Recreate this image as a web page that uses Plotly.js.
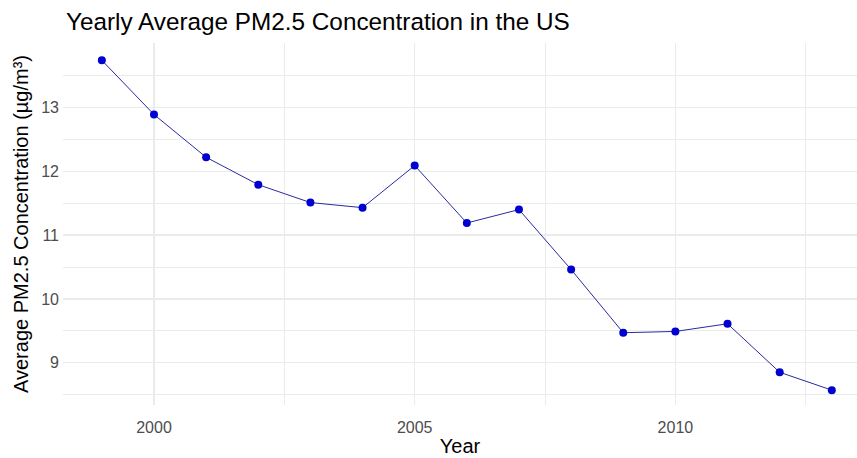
<!DOCTYPE html>
<html>
<head>
<meta charset="utf-8">
<script src="https://cdn.plot.ly/plotly-3.0.1.min.js"></script>
<style>html,body{margin:0;padding:0;background:#fff;}#chart{width:857px;height:458px;}</style>
</head>
<body>
<div id="chart"></div>
<script>
const years = [1999, 2000, 2001, 2002, 2003, 2004, 2005, 2006, 2007, 2008, 2009, 2010, 2011, 2012, 2013];
const pm25 = [13.74, 12.89, 12.22, 11.79, 11.51, 11.43, 12.09, 11.19, 11.40, 10.46, 9.47, 9.49, 9.61, 8.85, 8.57];
const xTickVals = [2000, 2005, 2010];
const yTickVals = [9, 10, 11, 12, 13];

const FONT = "Liberation Sans, Arial, sans-serif";
const GRID = "#ebebeb";

const trace = {
  x: years,
  y: pm25,
  type: "scatter",
  mode: "lines+markers",
  line: {color: "#2a2aa0", width: 1},
  marker: {color: "#0000d0", size: 8},
  hoverinfo: "x+y"
};

const layout = {
  width: 857,
  height: 458,
  margin: {l: 63, r: 0, t: 43, b: 53},
  paper_bgcolor: "#ffffff",
  plot_bgcolor: "#ffffff",
  showlegend: false,
  font: {family: FONT},
  title: {
    text: "Yearly Average PM2.5 Concentration in the US",
    font: {family: FONT, size: 24.3, color: "#000000"},
    x: 66 / 857, xref: "container", xanchor: "left",
    y: 1 - 21 / 458, yref: "container", yanchor: "middle"
  },
  xaxis: {
    range: [1998.255, 2013.483],
    tickvals: xTickVals,
    ticktext: xTickVals.map(String),
    showgrid: true, gridcolor: GRID, gridwidth: 1.4,
    minor: {tick0: 1997.5, dtick: 2.5, showgrid: true, gridcolor: GRID, gridwidth: 1},
    zeroline: false, showline: false, ticks: "",
    ticklabelstandoff: 11,
    tickfont: {family: FONT, size: 16, color: "#4d4d4d"},
    title: {text: "Year", font: {family: FONT, size: 20, color: "#000000"}, standoff: 3}
  },
  yaxis: {
    range: [8.337, 14.011],
    tickvals: yTickVals,
    ticktext: yTickVals.map(String),
    showgrid: true, gridcolor: GRID, gridwidth: 1.4,
    minor: {tick0: 8.5, dtick: 0.5, showgrid: true, gridcolor: GRID, gridwidth: 1},
    zeroline: false, showline: false, ticks: "",
    ticklabelstandoff: 3,
    tickfont: {family: FONT, size: 16, color: "#4d4d4d"},
    title: {text: "Average PM2.5 Concentration (µg/m³)", font: {family: FONT, size: 20, color: "#000000"}, standoff: 7}
  }
};

Plotly.newPlot("chart", [trace], layout, {displayModeBar: false, staticPlot: true});
</script>
</body>
</html>
